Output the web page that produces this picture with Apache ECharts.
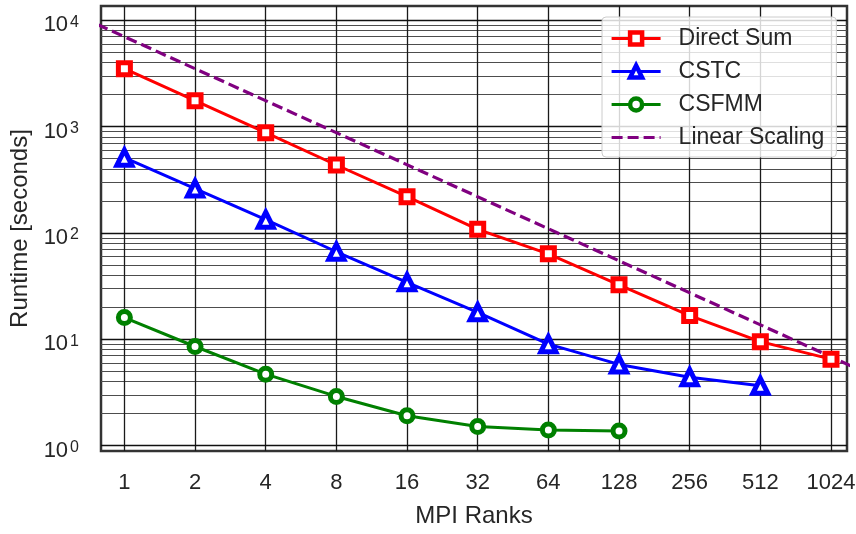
<!DOCTYPE html>
<html>
<head>
<meta charset="utf-8">
<script src="https://cdn.jsdelivr.net/npm/echarts@6/dist/echarts.min.js"></script>
<style>
  html, body { margin: 0; padding: 0; background: #fff; }
  #chart { width: 856px; height: 534px; }
</style>
</head>
<body>
<div id="chart"></div>
<script>
// MPI rank counts (x) and runtimes in seconds (y)
const ranks = [1, 2, 4, 8, 16, 32, 64, 128, 256, 512, 1024];
const directSum = [3500, 1750, 875, 435, 219, 108, 63.6, 32.5, 16.7, 9.5, 6.5];
const cstc = [510, 261, 133, 66.5, 34.3, 17.9, 9.0, 5.8, 4.4, 3.65];
const csfmm = [16.0, 8.55, 4.7, 2.9, 1.91, 1.51, 1.40, 1.37];
// ideal scaling reference line, extends past both plot edges
const linearRanks = [0.5, 2048];
const linearValues = [14000, 3.42];

const yDecades = [1, 10, 100, 1000, 10000];
const yMinor = [];
yDecades.slice(0, -1).forEach(d => { for (let k = 2; k <= 9; k++) yMinor.push(k * d); });

const FONT = "'Liberation Sans', Arial, sans-serif";
const TXT = '#262626';

const RED = '#ff0000', BLUE = '#0000ff', GREEN = '#008000', PURPLE = '#800080';

const pairs = (xs, ys) => ys.map((v, i) => [xs[i], v]);

const chart = echarts.init(document.getElementById('chart'), null, { renderer: 'canvas' });

const yRange = { min: 0.89, max: 13600 };

chart.setOption({
  animation: false,
  backgroundColor: '#fff',
  textStyle: { fontFamily: FONT, color: TXT },
  grid: {
    left: 101, right: 9, top: 6, bottom: 83,
    containLabel: false,
    outerBoundsMode: 'none',
    show: true,
    borderColor: '#333',
    borderWidth: 2.5,
    backgroundColor: 'transparent'
  },
  xAxis: {
    type: 'log',
    logBase: 2,
    min: 0.795,
    max: 1198,
    name: 'MPI Ranks',
    nameLocation: 'middle',
    nameGap: 53,
    nameTextStyle: { fontSize: 24, color: TXT, fontFamily: FONT },
    axisLine: { show: false },
    axisTick: { show: false, customValues: ranks },
    axisLabel: {
      customValues: ranks,
      fontSize: 22,
      color: TXT,
      fontFamily: FONT,
      margin: 21,
      formatter: v => String(Math.round(v))
    },
    splitLine: { show: true, lineStyle: { color: '#1a1a1a', width: 1.3 } }
  },
  yAxis: [
    {
      type: 'log',
      logBase: 10,
      min: yRange.min,
      max: yRange.max,
      name: 'Runtime [seconds]',
      nameLocation: 'middle',
      nameGap: 68,
      nameTextStyle: { fontSize: 24, color: TXT, fontFamily: FONT },
      axisLine: { show: false },
      axisTick: { show: false, customValues: yDecades },
      axisLabel: {
        customValues: yDecades,
        margin: 22,
        color: TXT,
        fontFamily: FONT,
        padding: [10, 0, 0, 0],
        formatter: v => '{b|10}{s|' + Math.round(Math.log10(v)) + '}',
        rich: {
          b: { fontSize: 22, lineHeight: 22, color: TXT, fontFamily: FONT },
          s: { fontSize: 16, lineHeight: 2, verticalAlign: 'top', color: TXT, fontFamily: FONT, padding: [0, 0, 0, 2] }
        }
      },
      splitLine: { show: true, lineStyle: { color: '#111', width: 1.4 } },
      z: 1
    },
    {
      // minor decade grid
      type: 'log',
      logBase: 10,
      min: yRange.min,
      max: yRange.max,
      position: 'left',
      axisLine: { show: false },
      axisTick: { show: false, customValues: yMinor },
      axisLabel: { show: false },
      splitLine: { show: true, lineStyle: { color: '#4d4d4d', width: 1 } },
      z: 0
    }
  ],
  legend: {
    orient: 'vertical',
    left: 602,
    top: 17,
    padding: [10, 12, 8, 8],
    itemGap: 10,
    itemWidth: 49,
    itemHeight: 15,
    backgroundColor: 'rgba(255,255,255,0.82)',
    borderColor: '#cccccc',
    borderWidth: 1,
    borderRadius: 4,
    textStyle: { fontSize: 23, color: TXT, fontFamily: FONT, padding: [0, 0, 0, 13] },
    data: [
      { name: 'Direct Sum', lineStyle: { color: RED, width: 3 }, itemStyle: { color: '#fff', borderColor: RED, borderWidth: 4.5 } },
      { name: 'CSTC', lineStyle: { color: BLUE, width: 3 }, itemStyle: { color: '#fff', borderColor: BLUE, borderWidth: 4.5 } },
      { name: 'CSFMM', lineStyle: { color: GREEN, width: 3 }, itemStyle: { color: '#fff', borderColor: GREEN, borderWidth: 4.5 } },
      { name: 'Linear Scaling', lineStyle: { color: PURPLE, width: 3.2, type: [11, 5] }, itemStyle: { opacity: 0 } }
    ]
  },
  series: [
    {
      name: 'Direct Sum',
      type: 'line',
      data: pairs(ranks, directSum),
      symbol: 'rect',
      symbolSize: 12,
      lineStyle: { color: RED, width: 3 },
      itemStyle: { color: '#ffffff', borderColor: RED, borderWidth: 5 },
      z: 5
    },
    {
      name: 'CSTC',
      type: 'line',
      data: pairs(ranks, cstc),
      symbol: 'triangle',
      symbolSize: 15,
      lineStyle: { color: BLUE, width: 3 },
      itemStyle: { color: '#ffffff', borderColor: BLUE, borderWidth: 5 },
      z: 5
    },
    {
      name: 'CSFMM',
      type: 'line',
      data: pairs(ranks, csfmm),
      symbol: 'circle',
      symbolSize: 12,
      lineStyle: { color: GREEN, width: 3 },
      itemStyle: { color: '#ffffff', borderColor: GREEN, borderWidth: 5 },
      z: 5
    },
    {
      name: 'Linear Scaling',
      type: 'line',
      data: pairs(linearRanks, linearValues),
      symbol: 'none',
      clip: true,
      lineStyle: { color: PURPLE, width: 3.2, type: [11, 5] },
      itemStyle: { color: PURPLE },
      z: 4
    }
  ]
});
</script>
</body>
</html>
